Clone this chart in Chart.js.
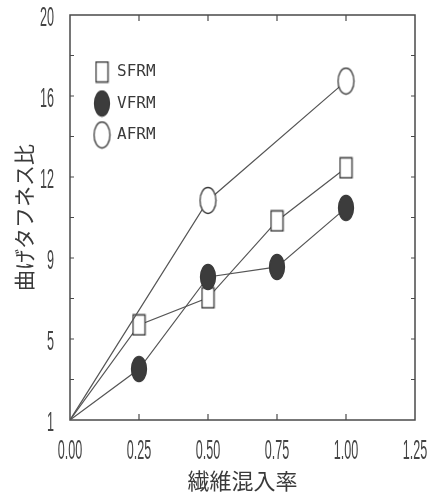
<!DOCTYPE html>
<html>
<head>
<meta charset="utf-8">
<script src="https://cdn.jsdelivr.net/npm/chart.js@4"></script>
<style>
html, body { margin: 0; padding: 0; background: #fff; }
#wrap { width: 432px; height: 497px; }
</style>
</head>
<body>
<div id="wrap"><canvas id="toughChart"></canvas></div>
<script>
const fiberRatio = [0, 0.25, 0.5, 0.75, 1.0];
const sfrm = [1, 5.46, 6.73, 10.34, 12.83];
const vfrm = [1, 3.39, 7.71, 8.18, 10.95];
const afrmRatio = [0, 0.5, 1.0];
const afrm = [1, 11.3, 16.9];
const seriesNames = ['SFRM', 'VFRM', 'AFRM'];
const xTickLabels = ['0.00', '0.25', '0.50', '0.75', '1.00', '1.25'];
const yTickLabels = ['1', '', '5', '', '9', '', '12', '', '16', '', '20'];

const ink = '#3a3a3a';

function makeMarker(shape, w, h, fill) {
    const c = document.createElement('canvas');
    c.width = w + 2;
    c.height = h + 2;
    const g = c.getContext('2d');
    g.strokeStyle = ink;
    g.lineWidth = 1.3;
    g.fillStyle = fill;
    g.beginPath();
    if (shape === 'rect') {
        g.rect(1.5, 1.5, w - 1, h - 1);
    } else {
        g.ellipse(c.width / 2, c.height / 2, w / 2 - 0.5, h / 2 - 0.5, 0, 0, Math.PI * 2);
    }
    g.fill();
    g.stroke();
    return c;
}

const markers = [
    makeMarker('rect', 13, 21, '#fff'),
    makeMarker('ellipse', 16, 26, '#3c3c3c'),
    makeMarker('ellipse', 17, 27, '#fff')
];

function toPoints(xs, ys) {
    return xs.map((x, i) => ({ x: x, y: ys[i] }));
}

function series(i, xs, ys) {
    return {
        label: seriesNames[i],
        data: toPoints(xs, ys),
        showLine: true,
        borderColor: '#555',
        borderWidth: 1.2,
        pointStyle: markers[i],
        pointRadius: xs.map(x => x === 0 ? 0 : 8),
        order: 3 - i
    };
}

// plotter-style narrow tick labels, placed from the scale's own ticks
function narrowText(ctx, text, x, y, align) {
    ctx.save();
    ctx.translate(x, y);
    ctx.scale(0.45, 1);
    ctx.textAlign = align;
    ctx.fillText(text, 0, 0);
    ctx.restore();
}

const framePlugin = {
    id: 'frame',
    beforeDatasetsDraw(chart) {
        const { ctx, chartArea: a, scales } = chart;
        ctx.save();
        ctx.strokeStyle = '#4a4a4a';
        ctx.lineWidth = 1.5;
        ctx.strokeRect(a.left, a.top, a.right - a.left, a.bottom - a.top);
        ctx.lineWidth = 1.2;
        ctx.beginPath();
        scales.x.ticks.forEach(t => {
            if (t.value <= scales.x.min || t.value >= scales.x.max) return;
            const px = scales.x.getPixelForValue(t.value);
            ctx.moveTo(px, a.bottom); ctx.lineTo(px, a.bottom - 6);
            ctx.moveTo(px, a.top); ctx.lineTo(px, a.top + 6);
        });
        scales.y.ticks.forEach(t => {
            if (t.value <= scales.y.min || t.value >= scales.y.max) return;
            const py = scales.y.getPixelForValue(t.value);
            ctx.moveTo(a.left, py); ctx.lineTo(a.left + 4, py);
            ctx.moveTo(a.right, py); ctx.lineTo(a.right - 4, py);
        });
        ctx.stroke();
        ctx.restore();
    },
    afterDraw(chart) {
        const { ctx, chartArea: a, scales } = chart;
        ctx.save();
        ctx.fillStyle = '#444';
        ctx.font = '28px "Liberation Sans", sans-serif';
        ctx.textBaseline = 'middle';
        scales.x.ticks.forEach((t, i) => {
            narrowText(ctx, xTickLabels[i] || '', scales.x.getPixelForValue(t.value), a.bottom + 31, 'center');
        });
        scales.y.ticks.forEach((t, i) => {
            narrowText(ctx, yTickLabels[i] || '', a.left - 16, scales.y.getPixelForValue(t.value) + 3, 'right');
        });

        ctx.fillStyle = ink;
        ctx.font = '16px "DejaVu Sans Mono", monospace';
        chart.data.datasets.slice().sort((p, q) => seriesNames.indexOf(p.label) - seriesNames.indexOf(q.label)).forEach((ds, i) => {
            const m = ds.pointStyle;
            const cx = a.left + 32, cy = a.top + 57 + i * 31.5;
            ctx.drawImage(m, cx - m.width / 2, cy - m.height / 2);
            ctx.fillText(ds.label, a.left + 47, cy);
        });
        ctx.restore();
    }
};

document.addEventListener('DOMContentLoaded', function () {
    const config = {
        type: 'scatter',
        data: {
            datasets: [
                series(0, fiberRatio, sfrm),
                series(1, fiberRatio, vfrm),
                series(2, afrmRatio, afrm)
            ]
        },
        options: {
            responsive: true,
            maintainAspectRatio: false,
            animation: false,
            layout: { padding: { top: 15, right: 17, left: 0, bottom: 0 } },
            plugins: {
                legend: { display: false },
                tooltip: { enabled: false }
            },
            scales: {
                x: {
                    type: 'linear',
                    min: 0,
                    max: 1.25,
                    afterFit: s => { s.height = 77; },
                    grid: { display: false, drawTicks: false },
                    border: { display: false },
                    ticks: {
                        display: false,
                        stepSize: 0.25,
                        autoSkip: false,
                        callback: (v, i) => xTickLabels[i]
                    },
                    title: {
                        display: true,
                        text: '繊維混入率',
                        color: ink,
                        font: { family: '"Noto Sans CJK JP"', size: 22 },
                        padding: { top: 0, bottom: 3 }
                    }
                },
                y: {
                    type: 'linear',
                    min: 1,
                    max: 20,
                    afterFit: s => { s.width = 70; },
                    grid: { display: false, drawTicks: false },
                    border: { display: false },
                    ticks: {
                        display: false,
                        stepSize: 1.9,
                        autoSkip: false,
                        callback: (v, i) => yTickLabels[i]
                    },
                    title: {
                        display: true,
                        text: '曲げタフネス比',
                        color: ink,
                        font: { family: '"Noto Sans CJK JP"', size: 21 },
                        padding: { top: 11, bottom: 0 }
                    }
                }
            }
        },
        plugins: [framePlugin]
    };

    const toughChart = new Chart(document.getElementById('toughChart'), config);
});
</script>
</body>
</html>
